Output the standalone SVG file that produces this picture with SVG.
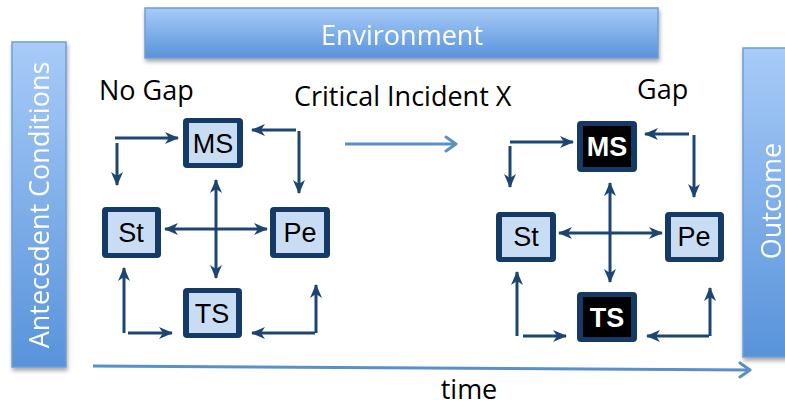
<svg xmlns="http://www.w3.org/2000/svg" width="785" height="406" viewBox="0 0 785 406">
<defs>
<linearGradient id="barGrad" x1="0" y1="0" x2="0" y2="1">
<stop offset="0" stop-color="#a8cbf8"/>
<stop offset="1" stop-color="#5893da"/>
</linearGradient>
<filter id="sh" x="-10%" y="-10%" width="130%" height="130%">
<feGaussianBlur in="SourceAlpha" stdDeviation="2"/>
<feOffset dx="1" dy="3"/>
<feComponentTransfer><feFuncA type="linear" slope="0.35"/></feComponentTransfer>
<feMerge><feMergeNode/><feMergeNode in="SourceGraphic"/></feMerge>
</filter>
<marker id="ah" markerUnits="userSpaceOnUse" markerWidth="14" markerHeight="14" viewBox="0 0 14 14" refX="13" refY="7" orient="auto-start-reverse">
<path d="M0,1 L14,7 L0,13 L4,7 z" fill="#1d4572"/>
</marker>
<marker id="oh" markerUnits="userSpaceOnUse" markerWidth="16" markerHeight="18" viewBox="0 0 16 18" refX="14" refY="9" orient="auto">
<polyline points="4,2 14,9 4,16" fill="none" stroke="#5b8fc9" stroke-width="3" stroke-linecap="round" stroke-linejoin="round"/>
</marker>
</defs>
<style>
.bar{fill:url(#barGrad);stroke:#6e9fd6;stroke-width:1.5;}
.bartxt{font-family:"Open Sans","Liberation Sans",sans-serif;font-size:27px;fill:#ffffff;}
.lbl{font-family:"Open Sans","Liberation Sans",sans-serif;font-size:27px;fill:#000000;}
.nodeo{fill:#163a66;}
.nodei{fill:#c8ddf3;}
.nodeib{fill:#000000;}
.ntxt{font-family:"Liberation Sans",Arial,sans-serif;font-size:27px;fill:#000000;text-anchor:middle;}
.ntxtb{font-family:"Liberation Sans",Arial,sans-serif;font-size:27px;font-weight:bold;fill:#ffffff;text-anchor:middle;}
.con{stroke:#1d4572;stroke-width:3;fill:none;}
.blue{stroke:#5b8fc9;stroke-width:3;fill:none;}
</style>
<rect width="785" height="406" fill="#ffffff"/>

<g id="environment" filter="url(#sh)">
<rect class="bar" x="145" y="8" width="513" height="50"/>
<text class="bartxt" x="402" y="45" text-anchor="middle">Environment</text>
</g>
<g id="antecedent" filter="url(#sh)">
<rect class="bar" x="12" y="42" width="54" height="325"/>
<text class="bartxt" transform="translate(49,205) rotate(-90)" text-anchor="middle">Antecedent Conditions</text>
</g>
<g id="outcome" filter="url(#sh)">
<rect class="bar" x="743" y="48" width="50" height="309"/>
<text class="bartxt" transform="translate(781,201) rotate(-90)" text-anchor="middle">Outcome</text>
</g>

<g id="labels">
<text class="lbl" x="99" y="100">No Gap</text>
<text class="lbl" x="294" y="106">Critical Incident X</text>
<text class="lbl" x="637" y="99">Gap</text>
<text class="lbl" x="469" y="399" text-anchor="middle">time</text>
</g>

<g id="connectors">
<line class="blue" x1="93" y1="366" x2="750" y2="370" marker-end="url(#oh)"/>
<line class="blue" x1="345" y1="144" x2="456" y2="144" marker-end="url(#oh)"/>

<!-- left cluster -->
<polyline class="con" points="115,138 178,138" marker-end="url(#ah)"/>
<polyline class="con" points="117,143 117,185" marker-end="url(#ah)"/>
<polyline class="con" points="296,130 252,130" marker-end="url(#ah)"/>
<polyline class="con" points="299,131 299,193" marker-end="url(#ah)"/>
<line class="con" x1="216" y1="180" x2="216" y2="278" marker-start="url(#ah)" marker-end="url(#ah)"/>
<line class="con" x1="165" y1="229" x2="267" y2="229" marker-start="url(#ah)" marker-end="url(#ah)"/>
<polyline class="con" points="124,333 124,268" marker-end="url(#ah)"/>
<polyline class="con" points="128,333 172,333" marker-end="url(#ah)"/>
<polyline class="con" points="316,333 316,285" marker-end="url(#ah)"/>
<polyline class="con" points="315,333 252,333" marker-end="url(#ah)"/>

<!-- right cluster -->
<polyline class="con" points="510,142 573,142" marker-end="url(#ah)"/>
<polyline class="con" points="510,146 510,187" marker-end="url(#ah)"/>
<polyline class="con" points="689,134 645,134" marker-end="url(#ah)"/>
<polyline class="con" points="694,135 694,197" marker-end="url(#ah)"/>
<line class="con" x1="610" y1="183" x2="610" y2="282" marker-start="url(#ah)" marker-end="url(#ah)"/>
<line class="con" x1="559" y1="233" x2="662" y2="233" marker-start="url(#ah)" marker-end="url(#ah)"/>
<polyline class="con" points="517,336 517,272" marker-end="url(#ah)"/>
<polyline class="con" points="523,336 566,336" marker-end="url(#ah)"/>
<polyline class="con" points="710,336 710,288" marker-end="url(#ah)"/>
<polyline class="con" points="709,336 647,336" marker-end="url(#ah)"/>
</g>

<g id="ms-left">
<rect class="nodeo" x="183" y="118" width="60" height="50" rx="4"/>
<rect class="nodei" x="189" y="123" width="48" height="40"/>
<text class="ntxt" x="213" y="153">MS</text>
</g>
<g id="st-left">
<rect class="nodeo" x="102" y="207" width="59" height="51" rx="4"/>
<rect class="nodei" x="108" y="212" width="47" height="41"/>
<text class="ntxt" x="131" y="242">St</text>
</g>
<g id="pe-left">
<rect class="nodeo" x="270" y="207" width="60" height="51" rx="4"/>
<rect class="nodei" x="276" y="212" width="48" height="41"/>
<text class="ntxt" x="300" y="242">Pe</text>
</g>
<g id="ts-left">
<rect class="nodeo" x="183" y="288" width="59" height="50" rx="4"/>
<rect class="nodei" x="189" y="293" width="47" height="40"/>
<text class="ntxt" x="212" y="323">TS</text>
</g>

<g id="ms-right">
<rect class="nodeo" x="577" y="121" width="60" height="51" rx="4"/>
<rect class="nodeib" x="583" y="126" width="48" height="41"/>
<text class="ntxtb" x="607" y="156">MS</text>
</g>
<g id="st-right">
<rect class="nodeo" x="496" y="212" width="60" height="50" rx="4"/>
<rect class="nodei" x="502" y="217" width="48" height="40"/>
<text class="ntxt" x="526" y="246">St</text>
</g>
<g id="pe-right">
<rect class="nodeo" x="665" y="212" width="59" height="50" rx="4"/>
<rect class="nodei" x="671" y="217" width="47" height="40"/>
<text class="ntxt" x="694" y="246">Pe</text>
</g>
<g id="ts-right">
<rect class="nodeo" x="577" y="292" width="60" height="50" rx="4"/>
<rect class="nodeib" x="583" y="297" width="48" height="40"/>
<text class="ntxtb" x="607" y="327">TS</text>
</g>
</svg>
